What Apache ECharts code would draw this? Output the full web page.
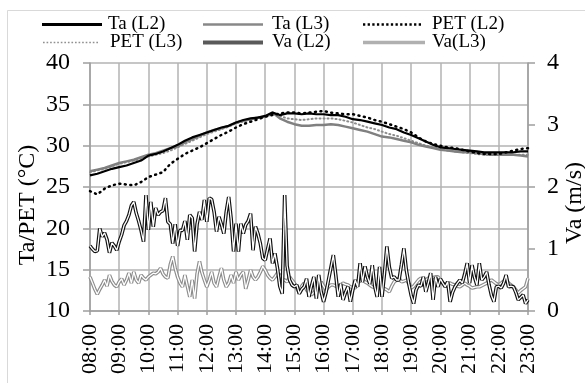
<!DOCTYPE html>
<html><head><meta charset="utf-8">
<script src="https://cdn.jsdelivr.net/npm/echarts@6/dist/echarts.min.js"></script>
<style>html,body{margin:0;padding:0;background:#fff}#c{width:585px;height:383px}</style>
</head><body><div id="c"></div>
<script>
// x tick labels (hours)
const hourTicks = ["08:00","09:00","10:00","11:00","12:00","13:00","14:00","15:00","16:00","17:00","18:00","19:00","20:00","21:00","22:00","23:00"];
// Ta / PET, every 15 min from 08:00 to 23:00 (°C)
const taL2 = [26.4,26.6,26.9,27.2,27.4,27.6,27.9,28.2,28.8,29.0,29.3,29.7,30.1,30.6,31.0,31.3,31.6,31.9,32.2,32.4,32.8,33.1,33.3,33.4,33.6,34.0,33.7,33.9,33.9,33.8,33.9,33.8,33.8,33.7,33.7,33.5,33.2,33.1,32.9,32.7,32.5,32.2,32.0,31.6,31.3,30.9,30.5,30.1,29.8,29.7,29.6,29.5,29.4,29.3,29.2,29.2,29.2,29.2,29.2,29.3,29.3];
const taL3 = [26.9,27.1,27.3,27.6,27.9,28.1,28.3,28.6,28.9,29.1,29.4,29.7,29.9,30.4,30.8,31.2,31.6,31.9,32.1,32.4,32.8,33.0,33.2,33.4,33.5,34.0,33.3,32.9,32.6,32.4,32.4,32.5,32.5,32.6,32.5,32.3,32.1,31.9,31.7,31.4,31.1,31.0,30.8,30.6,30.4,30.1,29.9,29.7,29.5,29.4,29.3,29.2,29.2,29.1,29.0,28.9,28.9,28.9,28.9,28.8,28.7];
const petL2 = [24.5,24.1,24.8,25.2,25.4,25.3,25.2,25.6,26.2,26.5,26.8,27.8,28.4,29.0,29.4,29.8,30.3,30.8,31.3,31.7,32.2,32.6,32.9,33.2,33.5,33.7,33.9,34.0,34.0,33.9,34.0,34.1,34.2,34.0,33.9,33.8,33.8,33.6,33.4,33.1,32.9,32.6,32.3,32.0,31.6,31.0,30.5,30.2,30.0,29.8,29.7,29.5,29.3,29.1,29.0,29.0,29.0,29.2,29.4,29.6,29.7];
const petL3 = [26.8,27.0,27.2,27.5,27.8,28.0,28.2,28.4,28.7,28.9,29.1,29.4,29.8,30.2,30.6,31.0,31.4,31.7,32.0,32.3,32.7,32.9,33.2,33.4,33.5,33.8,33.6,33.3,33.2,33.1,33.2,33.3,33.3,33.3,33.2,33.0,32.8,32.5,32.2,32.0,31.7,31.4,31.2,30.9,30.6,30.3,30.0,29.8,29.6,29.4,29.3,29.2,29.1,29.0,28.9,28.9,28.9,28.9,28.9,28.9,28.9];
// Va, every 5 min from 08:00 to 23:00 (m/s)
const vaL2 = [1.05,1.00,0.96,0.97,1.33,1.20,1.26,1.15,0.94,1.10,1.05,0.98,1.12,1.23,1.38,1.45,1.55,1.70,1.76,1.58,1.45,1.30,1.12,1.87,1.31,1.76,1.36,1.66,1.55,1.60,1.62,1.82,1.44,1.40,1.09,1.40,1.05,1.30,1.30,1.45,1.15,1.55,1.50,0.96,1.40,1.60,1.47,1.79,1.44,1.82,1.80,1.60,1.28,1.52,1.40,1.25,1.60,1.84,1.49,0.96,1.41,0.96,1.41,1.25,1.39,1.45,1.57,0.98,1.36,1.25,1.09,0.85,0.82,1.00,1.17,0.77,0.93,0.70,0.40,0.28,1.87,0.73,0.50,0.42,0.39,0.42,0.28,0.35,0.39,0.52,0.23,0.40,0.55,0.20,0.58,0.31,0.15,0.30,0.50,0.70,0.90,0.58,0.23,0.44,0.18,0.30,0.39,0.15,0.34,0.50,0.39,0.77,0.47,0.72,0.55,0.44,0.74,0.40,0.23,0.71,0.23,0.60,1.04,0.71,0.53,0.55,0.50,0.50,0.75,1.01,0.66,0.44,0.25,0.12,0.34,0.42,0.40,0.55,0.31,0.45,0.61,0.18,0.55,0.39,0.52,0.45,0.39,0.47,0.15,0.30,0.39,0.45,0.50,0.45,0.60,0.77,0.45,0.74,0.55,0.42,0.77,0.50,0.55,0.63,0.42,0.25,0.15,0.39,0.40,0.37,0.45,0.58,0.39,0.40,0.39,0.30,0.18,0.22,0.26,0.12,0.18];
const vaL3 = [0.55,0.45,0.35,0.27,0.35,0.42,0.50,0.40,0.58,0.48,0.42,0.39,0.47,0.52,0.42,0.50,0.61,0.45,0.63,0.50,0.45,0.58,0.53,0.50,0.55,0.58,0.61,0.60,0.63,0.69,0.60,0.55,0.53,0.75,0.88,0.69,0.55,0.45,0.39,0.58,0.40,0.23,0.50,0.20,0.60,0.80,0.62,0.50,0.39,0.50,0.63,0.45,0.39,0.55,0.69,0.50,0.39,0.45,0.58,0.45,0.63,0.50,0.58,0.63,0.36,0.50,0.66,0.55,0.50,0.55,0.63,0.72,0.66,0.58,0.53,0.50,0.55,0.61,0.58,0.50,0.50,0.47,0.55,0.50,0.45,0.36,0.31,0.40,0.45,0.34,0.30,0.26,0.30,0.34,0.39,0.47,0.40,0.34,0.39,0.42,0.42,0.40,0.39,0.42,0.45,0.43,0.42,0.39,0.38,0.37,0.47,0.48,0.50,0.47,0.45,0.42,0.39,0.38,0.37,0.38,0.39,0.36,0.34,0.31,0.40,0.47,0.50,0.53,0.47,0.48,0.50,0.45,0.37,0.40,0.45,0.50,0.53,0.50,0.50,0.53,0.53,0.54,0.55,0.55,0.50,0.45,0.42,0.45,0.45,0.43,0.42,0.40,0.39,0.42,0.45,0.42,0.40,0.37,0.38,0.39,0.39,0.41,0.43,0.45,0.48,0.50,0.47,0.44,0.42,0.45,0.48,0.50,0.45,0.42,0.39,0.34,0.29,0.33,0.36,0.39,0.53];

const pairs = (arr, stepMin) => arr.map((v, i) => [8 + i * stepMin / 60, v]);
const FONT = "'Liberation Serif', 'Times New Roman', serif";
const GRID = '#b3b3b3', AXIS = '#9e9e9e';

// legend icon shapes
function barIcon(w, h) { return 'path://M0,0H' + w + 'V' + h + 'H0Z'; }
function dotIcon(w, d, step) {
  let p = 'path://';
  for (let x = 0; x + d <= w + 0.01; x += step) p += 'M' + x.toFixed(2) + ',0h' + d + 'v' + d + 'h-' + d + 'Z';
  return p;
}

function leg(name, left, top, w, icon, color, textPad) {
  return {
    left: left, top: top, itemWidth: w, itemHeight: 14, padding: 0, selectedMode: false,
    itemStyle: {color: color, borderWidth: 0, borderColor: 'transparent'},
    data: [{name: name, icon: icon}],
    textStyle: {fontFamily: FONT, fontSize: 19, fontWeight: 'normal', color: '#000',
      textBorderWidth: 0, padding: [0, 0, 0, textPad]}
  };
}

const chart = echarts.init(document.getElementById('c'), null, {renderer: 'canvas'});

const option = {
  animation: false,
  backgroundColor: '#fff',
  graphic: [{type: 'rect', shape: {x: 7.5, y: 10.5, width: 600, height: 400}, style: {fill: 'none', stroke: '#d9d9d9', lineWidth: 1}, silent: true}],
  legend: [
    leg('Ta (L2)', 42, 15, 60, barIcon(60, 3), '#000000', 1),
    leg('Ta (L3)', 203, 15, 60, barIcon(60, 2.6), '#888888', 4),
    leg('PET (L2)', 363, 15, 58, dotIcon(58, 2.2, 4.45), '#000000', 6),
    leg('PET (L3)', 43, 33, 55, dotIcon(55, 1.6, 3.45), '#909090', 7),
    leg('Va (L2)', 203, 33, 60, barIcon(60, 4), '#5a5a5a', 4),
    leg('Va(L3)', 363, 33, 62, barIcon(62, 3.4), '#b0b0b0', 2)
  ],
  grid: {left: 90, right: 57, top: 63, bottom: 72, containLabel: false, outerBoundsMode: 'none'},
  xAxis: {
    type: 'value', min: 8, max: 23, interval: 1,
    axisLine: {show: true, lineStyle: {color: AXIS, width: 1.5}},
    axisTick: {show: true, inside: false, length: 4, lineStyle: {color: AXIS, width: 1.5}},
    splitLine: {show: true, lineStyle: {color: GRID, width: 1.5}},
    axisLabel: {rotate: 90, margin: 13, fontFamily: FONT, fontSize: 22, color: '#000',
      formatter: v => hourTicks[Math.round(v - 8)] || ''}
  },
  yAxis: [
    {type: 'value', min: 10, max: 40, interval: 5, position: 'left',
      name: 'Ta/PET (°C)', nameLocation: 'middle', nameGap: 50, nameRotate: 90, nameMoveOverlap: false,
      nameTextStyle: {fontFamily: FONT, fontSize: 24, color: '#000', padding: [0, 36, 0, 0]},
      axisLine: {show: true, lineStyle: {color: AXIS, width: 1.5}},
      axisTick: {show: true, length: 7, lineStyle: {color: AXIS, width: 1.5}},
      splitLine: {show: true, lineStyle: {color: GRID, width: 1.5}},
      axisLabel: {margin: 20, fontFamily: FONT, fontSize: 24, color: '#000'}},
    {type: 'value', min: 0, max: 4, interval: 1, position: 'right',
      name: 'Va (m/s)', nameLocation: 'middle', nameGap: 35, nameRotate: 90, nameMoveOverlap: false,
      nameTextStyle: {fontFamily: FONT, fontSize: 24, color: '#000', padding: [0, 32, 0, 0]},
      axisLine: {show: true, lineStyle: {color: AXIS, width: 1.5}},
      axisTick: {show: true, length: 7, lineStyle: {color: AXIS, width: 1.5}},
      splitLine: {show: false},
      axisLabel: {margin: 19, fontFamily: FONT, fontSize: 24, color: '#000'}}
  ],
  series: [
    {name: 'Va(L3)', type: 'line', yAxisIndex: 1, data: pairs(vaL3, 5), showSymbol: false, symbol: 'none',
      itemStyle: {color: '#8c8c8c'}, lineStyle: {color: '#8c8c8c', width: 3.6}, z: 2},
    {name: 'va3core', type: 'line', yAxisIndex: 1, data: pairs(vaL3, 5), showSymbol: false, symbol: 'none',
      itemStyle: {color: '#fff'}, lineStyle: {color: '#ffffff', width: 1.3}, z: 2, silent: true},
    {name: 'Va (L2)', type: 'line', yAxisIndex: 1, data: pairs(vaL2, 5), showSymbol: false, symbol: 'none',
      itemStyle: {color: '#111'}, lineStyle: {color: '#111111', width: 3.6}, z: 3},
    {name: 'va2core', type: 'line', yAxisIndex: 1, data: pairs(vaL2, 5), showSymbol: false, symbol: 'none',
      itemStyle: {color: '#fff'}, lineStyle: {color: '#ffffff', width: 1.3}, z: 3, silent: true},
    {name: 'PET (L3)', type: 'line', data: pairs(petL3, 15), showSymbol: false, symbol: 'none',
      itemStyle: {color: '#8c8c8c'}, lineStyle: {color: '#8c8c8c', width: 2, type: [1, 3], cap: 'round'}, z: 4},
    {name: 'Ta (L3)', type: 'line', data: pairs(taL3, 15), showSymbol: false, symbol: 'none',
      itemStyle: {color: '#808080'}, lineStyle: {color: '#808080', width: 2.5}, z: 5},
    {name: 'Ta (L2)', type: 'line', data: pairs(taL2, 15), showSymbol: false, symbol: 'none',
      itemStyle: {color: '#000'}, lineStyle: {color: '#000000', width: 2.2}, z: 6},
    {name: 'PET (L2)', type: 'line', data: pairs(petL2, 15), showSymbol: false, symbol: 'none',
      itemStyle: {color: '#000'}, lineStyle: {color: '#000000', width: 2.5, type: [1, 4.5], cap: 'round'}, z: 7}
  ]
};
chart.setOption(option);
</script></body></html>
